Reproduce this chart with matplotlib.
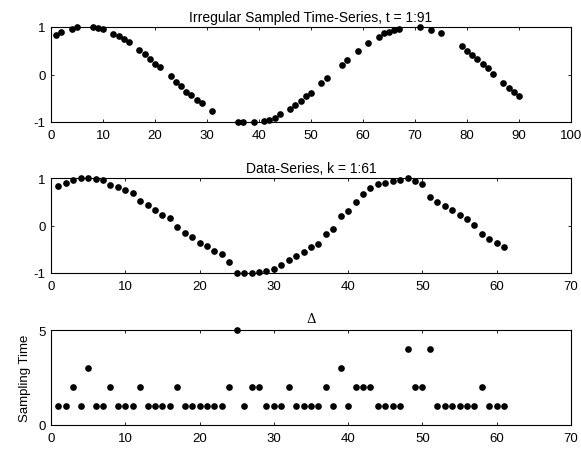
import numpy as np
import matplotlib
matplotlib.use("Agg")
import matplotlib.pyplot as plt

plt.rcParams['font.family'] = ['Liberation Sans', 'DejaVu Sans']
plt.rcParams['axes.unicode_minus'] = False

# Sampling intervals (Delta) for k = 1..61
delta = [1, 1, 2, 1, 3, 1, 1, 2, 1, 1,
         1, 2, 1, 1, 1, 1, 2, 1, 1, 1,
         1, 1, 1, 2, 5, 1, 2, 2, 1, 1,
         1, 2, 1, 1, 1, 1, 2, 1, 3, 1,
         2, 2, 2, 1, 1, 1, 1, 4, 2, 2,
         4, 1, 1, 1, 1, 1, 1, 2, 1, 1, 1]

# Data values for k = 1..61
values = [0.84, 0.89, 0.96, 0.99, 0.99, 0.97, 0.95, 0.86, 0.82, 0.75,
          0.69, 0.51, 0.43, 0.33, 0.23, 0.16, -0.04, -0.15, -0.25, -0.36,
          -0.43, -0.53, -0.61, -0.77, -1.0, -1.0, -1.0, -0.98, -0.96, -0.91,
          -0.84, -0.72, -0.64, -0.56, -0.46, -0.39, -0.18, -0.07, 0.21, 0.30,
          0.50, 0.67, 0.79, 0.87, 0.89, 0.94, 0.96, 0.99, 0.94, 0.87,
          0.59, 0.50, 0.41, 0.33, 0.23, 0.14, 0.02, -0.18, -0.28, -0.36, -0.46]

k = np.arange(1, len(values) + 1)
t = np.cumsum(delta)

titles = ["Irregular Sampled Time-Series, t = 1:91", "Data-Series, k = 1:61", "\u0394"]

W, H = 581, 452
fig = plt.figure(figsize=(W / 100, H / 100), dpi=100)

def make_ax(top_px, bot_px):
    return fig.add_axes([51 / W, 1 - bot_px / H, 520 / W, (bot_px - top_px) / H])

ax1 = make_ax(28, 123)
ax2 = make_ax(179, 274)
ax3 = make_ax(331, 426)

ms = 3.8
ax1.plot(t, values, 'o', color='black', markersize=ms, clip_on=False)
ax1.set_xlim(0, 100)
ax1.set_ylim(-1, 1)
ax1.set_xticks(np.arange(0, 101, 10))
ax1.set_yticks([-1, 0, 1])

ax2.plot(k, values, 'o', color='black', markersize=ms, clip_on=False)
ax2.set_xlim(0, 70)
ax2.set_ylim(-1, 1)
ax2.set_xticks(np.arange(0, 71, 10))
ax2.set_yticks([-1, 0, 1])

ax3.plot(k, delta, 'o', color='black', markersize=ms, clip_on=False)
ax3.set_xlim(0, 70)
ax3.set_ylim(0, 5)
ax3.set_xticks(np.arange(0, 71, 10))
ax3.set_yticks([0, 5])
ax3.set_ylabel("Sampling Time", fontsize=9.5, labelpad=5)

for ax, ttl in zip([ax1, ax2, ax3], titles):
    if ttl == "\u0394":
        ax.set_title(ttl, fontsize=9.5, family=['DejaVu Serif'], pad=6)
    else:
        ax.set_title(ttl, fontsize=10, pad=4)
    ax.tick_params(direction='in', length=2.5, width=0.6, labelsize=9.5,
                   top=True, right=True)
    ax.tick_params(axis='x', pad=5)
    ax.tick_params(axis='y', pad=4)
    for s in ax.spines.values():
        s.set_linewidth(0.8)
        s.set_color('black')

fig.savefig("out.png", dpi=100)
